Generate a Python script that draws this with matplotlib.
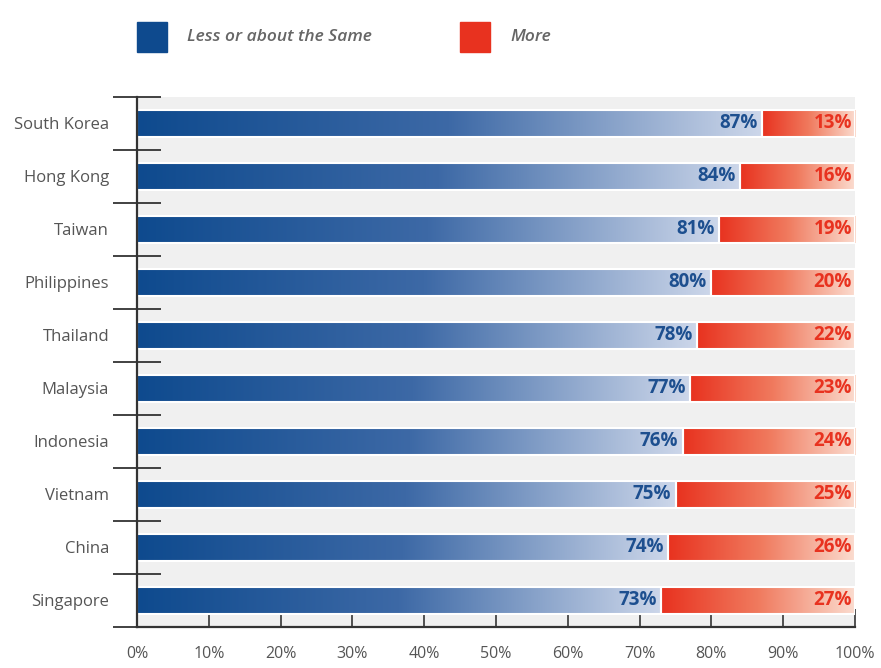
import numpy as np
import matplotlib.pyplot as plt
from matplotlib.colors import LinearSegmentedColormap
from matplotlib.patches import Rectangle

plt.rcParams['font.family'] = ['Open Sans', 'DejaVu Sans']

countries = ['South Korea', 'Hong Kong', 'Taiwan', 'Philippines', 'Thailand',
             'Malaysia', 'Indonesia', 'Vietnam', 'China', 'Singapore']
less_same = [87, 84, 81, 80, 78, 77, 76, 75, 74, 73]
more = [13, 16, 19, 20, 22, 23, 24, 25, 26, 27]

BLUE = '#0e4a8e'
RED = '#e8321f'
blue_cmap = LinearSegmentedColormap.from_list('blue', [BLUE, '#3d69a6', '#cdd7ea'], N=1024)
red_cmap = LinearSegmentedColormap.from_list('red', [RED, '#f07a5e', '#fbdccf'], N=1024)

fig = plt.figure(figsize=(8.81, 6.68), dpi=100)
ax = fig.add_axes([0.1555, 0.0614, 0.8150, 0.7934])
ax.set_facecolor('#f0f0f0')

y = np.arange(len(countries))
h = 0.5
b1 = ax.barh(y, less_same, height=h, color='none', edgecolor='white', lw=1.5, zorder=3)
b2 = ax.barh(y, more, left=less_same, height=h, color='none', edgecolor='white', lw=1.5, zorder=3)

grad = np.linspace(0, 1, 1024).reshape(1, -1)


def fill_gradient(bars, cmap):
    for p in bars:
        x0, y0 = p.get_x(), p.get_y()
        im = ax.imshow(grad, cmap=cmap, aspect='auto', zorder=2, interpolation='bilinear',
                       extent=(x0, x0 + p.get_width(), y0, y0 + p.get_height()))
        im.set_clip_path(p)


fill_gradient(b1, blue_cmap)
fill_gradient(b2, red_cmap)

for i in range(len(countries)):
    ax.text(less_same[i] - 0.6, i, f'{less_same[i]}%', ha='right', va='center',
            color='#1d4f8f', fontsize=13.5, fontweight='bold', zorder=4)
    ax.text(99.6, i, f'{more[i]}%', ha='right', va='center',
            color=RED, fontsize=13.5, fontweight='bold', zorder=4)

ax.set_xlim(0, 100)
ax.set_ylim(len(countries) - 0.5, -0.5)

# tick marks at row boundaries, labels at row centres
ax.set_yticks(np.arange(len(countries) + 1) - 0.5)
ax.set_yticklabels([])
ax.set_yticks(y, minor=True)
ax.set_yticklabels(countries, minor=True, fontsize=12, color='#555555')
ax.tick_params(axis='y', which='major', direction='inout', length=34, width=1.3, color='#333333')
ax.tick_params(axis='y', which='minor', length=0, pad=20)

ax.set_xticks(range(0, 101, 10))
ax.set_xticklabels([f'{v}%' for v in range(0, 101, 10)], fontsize=11.5, color='#555555')
ax.tick_params(axis='x', direction='in', length=13, width=1.3, color='#444444', pad=14)

for s in ['top', 'right']:
    ax.spines[s].set_visible(False)
for s in ['left', 'bottom']:
    ax.spines[s].set_color('#333333')
    ax.spines[s].set_linewidth(1.6)
    ax.spines[s].set_zorder(5)

# legend
fig.patches.append(Rectangle((137 / 881, 1 - 52 / 668), 30 / 881, 30 / 668,
                             transform=fig.transFigure, color=BLUE))
fig.text(187 / 881, 1 - 37 / 668, 'Less or about the Same', fontsize=12.5,
         style='italic', fontweight='semibold', color='#666666', va='center')
fig.patches.append(Rectangle((460 / 881, 1 - 52 / 668), 30 / 881, 30 / 668,
                             transform=fig.transFigure, color=RED))
fig.text(510 / 881, 1 - 37 / 668, 'More', fontsize=12.5,
         style='italic', fontweight='semibold', color='#666666', va='center')

fig.savefig('out.png', dpi=100)
